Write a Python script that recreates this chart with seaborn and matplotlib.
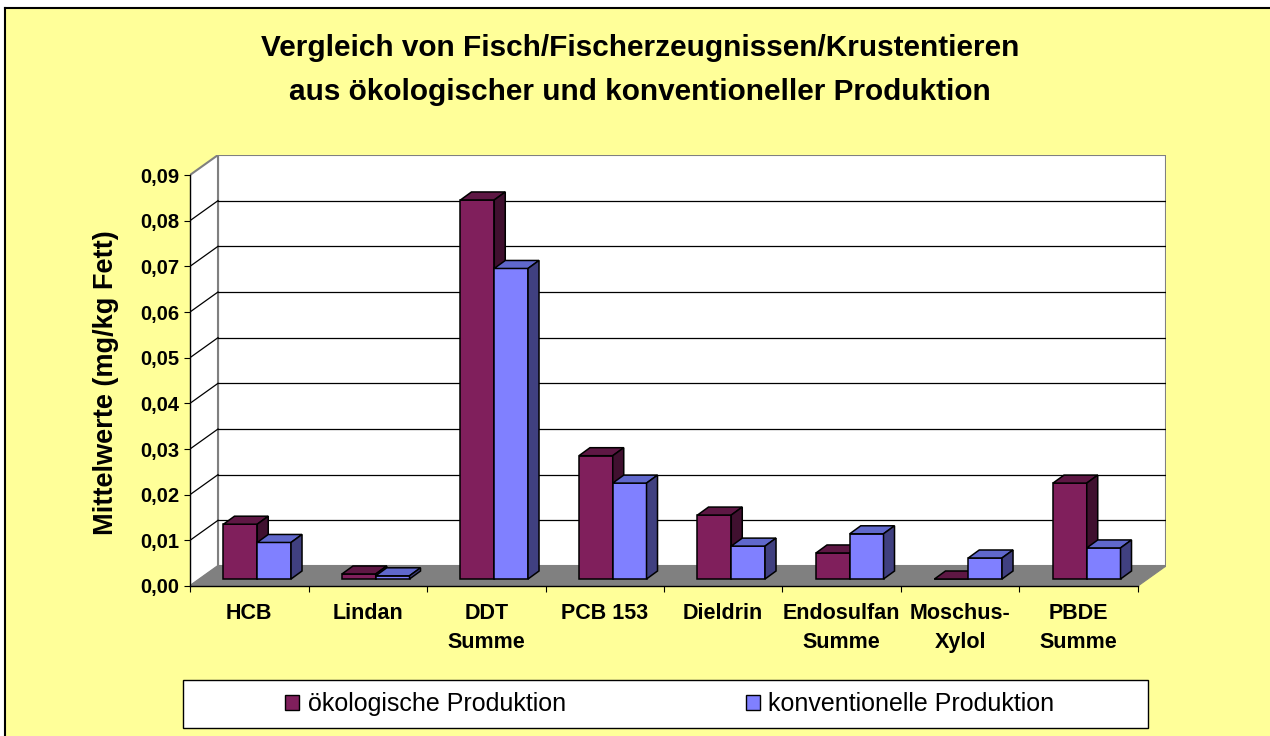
import numpy as np
import pandas as pd
import matplotlib
matplotlib.use("Agg")
import matplotlib.pyplot as plt
from matplotlib.patches import Rectangle, Polygon, Patch
from matplotlib.lines import Line2D
from matplotlib.ticker import FixedLocator
import seaborn as sns

# ---------------- data ----------------
categories = ["HCB", "Lindan", "DDT\nSumme", "PCB 153", "Dieldrin",
              "Endosulfan\nSumme", "Moschus-\nXylol", "PBDE\nSumme"]
series_names = ["ökologische Produktion", "konventionelle Produktion"]
eco_values = [0.012, 0.0011, 0.083, 0.027, 0.014, 0.0057, 0.0, 0.021]
conv_values = [0.008, 0.0007, 0.068, 0.021, 0.0072, 0.0099, 0.0046, 0.0068]
yticks = [0.00, 0.01, 0.02, 0.03, 0.04, 0.05, 0.06, 0.07, 0.08, 0.09]
ytick_labels = ["0,00", "0,01", "0,02", "0,03", "0,04", "0,05", "0,06", "0,07", "0,08", "0,09"]
title_lines = ["Vergleich von Fisch/Fischerzeugnissen/Krustentieren",
               "aus ökologischer und konventioneller Produktion"]
ylabel = "Mittelwerte (mg/kg Fett)"

df = pd.DataFrame({
    "Kategorie": categories * 2,
    "Serie": [series_names[0]] * len(categories) + [series_names[1]] * len(categories),
    "Wert": eco_values + conv_values,
})

# ---------------- style ----------------
plt.rcParams["font.family"] = ["Liberation Sans", "DejaVu Sans"]
BG = "#FFFF99"
front_cols = ["#801F5C", "#8080FF"]
top_cols = ["#5E1744", "#6068CC"]
side_cols = ["#40102F", "#404080"]

W, H = 1270, 736
fig = plt.figure(figsize=(W / 100, H / 100), dpi=100, facecolor="white")

# yellow chart area with black top/left border
fig.patches.append(Rectangle((5 / W, 0), 1 - 5 / W, 1 - 8 / H, transform=fig.transFigure,
                             facecolor=BG, edgecolor="none", zorder=-3))
fig.lines.append(Line2D([5 / W, 1], [1 - 8 / H, 1 - 8 / H], transform=fig.transFigure,
                        color="black", lw=1.5, zorder=-2))
fig.lines.append(Line2D([5 / W, 5 / W], [0, 1 - 8 / H], transform=fig.transFigure,
                        color="black", lw=1.5, zorder=-2))

# axes geometry (pixels)
px_left, px_right, px_top, px_bottom = 190, 1166, 155, 586
cat_px = (1138 - 190) / 8.0
unit_px = (586 - 175) / 0.09
ax = fig.add_axes([px_left / W, (H - px_bottom) / H,
                   (px_right - px_left) / W, (px_bottom - px_top) / H])
ax.set_facecolor("none")
ax.set_zorder(2)

xmin = -0.5
xmax = xmin + (px_right - px_left) / cat_px
ymax = (px_bottom - px_top) / unit_px

# depth of walls and of bars, in data units
DX, DY = 28 / cat_px, 20 / unit_px
BDX, BDY = 11 / cat_px, 8 / unit_px
SX, SY = 8 / cat_px, 7 / unit_px

sns.barplot(data=df, x="Kategorie", y="Wert", hue="Serie", order=categories,
            hue_order=series_names, palette=front_cols, saturation=1,
            width=0.57, gap=0, errorbar=None, edgecolor="black",
            linewidth=1.1, legend=False, ax=ax)
bars = list(ax.patches)
n = len(categories)

# walls and floor
nlast = n - 0.5
top = yticks[-1]
ax.add_patch(Rectangle((xmin + DX, DY), nlast - xmin, top, facecolor="white",
                       edgecolor="#808080", linewidth=1.5, zorder=0.5))
ax.add_patch(Polygon([(xmin, 0), (xmin + DX, DY), (xmin + DX, top + DY), (xmin, top)],
                     closed=True, facecolor="white", edgecolor="#808080",
                     linewidth=1.5, zorder=0.6))
ax.add_patch(Polygon([(xmin, 0), (nlast, 0), (nlast + DX, DY), (xmin + DX, DY)],
                     closed=True, facecolor="#808080", edgecolor="#808080",
                     linewidth=0.8, zorder=0.7))
for t in yticks[1:-1]:
    ax.plot([xmin + DX, nlast + DX], [t + DY, t + DY], color="black", lw=0.9, zorder=0.8)
    ax.plot([xmin, xmin + DX], [t, t + DY], color="black", lw=0.9, zorder=0.8)

# 3-D faces of the bars
for i, p in enumerate(bars):
    s = 0 if i < n else 1
    z = 3 + s
    x0 = p.get_x() + SX
    p.set_x(x0)
    p.set_y(SY)
    p.set_zorder(z)
    w = p.get_width()
    h = p.get_height()
    x1 = x0 + w
    y0, y1 = SY, SY + h
    ax.add_patch(Polygon([(x0, y1), (x0 + BDX, y1 + BDY), (x1 + BDX, y1 + BDY), (x1, y1)],
                         closed=True, facecolor=top_cols[s], edgecolor="black",
                         linewidth=1.1, zorder=z))
    ax.add_patch(Polygon([(x1, y0), (x1 + BDX, y0 + BDY), (x1 + BDX, y1 + BDY), (x1, y1)],
                         closed=True, facecolor=side_cols[s], edgecolor="black",
                         linewidth=1.1, zorder=z))

ax.set_xlim(xmin, xmax)
ax.set_ylim(0, ymax)

for sp in ["top", "right"]:
    ax.spines[sp].set_visible(False)
ax.spines["left"].set_bounds(0, top)
ax.spines["bottom"].set_bounds(xmin, nlast)
for sp in ["left", "bottom"]:
    ax.spines[sp].set_color("black")
    ax.spines[sp].set_linewidth(1.0)
    ax.spines[sp].set_zorder(5)

ax.set_yticks(yticks)
ax.set_yticklabels(ytick_labels)
ax.set_xticks(range(n))
ax.set_xticklabels(categories, linespacing=1.55)
ax.xaxis.set_minor_locator(FixedLocator(np.arange(xmin, nlast + 0.01, 1)))
ax.tick_params(axis="x", which="major", length=0, pad=12, labelsize=15.5)
ax.tick_params(axis="x", which="minor", length=4, width=0.8, color="black", direction="out")
ax.tick_params(axis="y", length=4, width=0.8, color="black", direction="out",
               pad=4, labelsize=14.5)
for lab in ax.get_xticklabels():
    lab.set_fontweight("bold")
for lab in ax.get_yticklabels():
    lab.set_fontweight("bold")
ax.set_xlabel("")
ax.set_ylabel("")

# titles and axis label
fig.text(640 / W, 1 - 48 / H, title_lines[0], ha="center", va="center",
         fontsize=21.4, fontweight="bold")
fig.text(640 / W, 1 - 92 / H, title_lines[1], ha="center", va="center",
         fontsize=21.4, fontweight="bold")
fig.text(106 / W, 1 - 383 / H, ylabel, rotation=90, ha="center", va="center",
         fontsize=19.5, fontweight="bold")

# legend
fig.patches.append(Rectangle((183 / W, 1 - 728 / H), (1148 - 183) / W, 48 / H,
                             transform=fig.transFigure, facecolor="white",
                             edgecolor="black", linewidth=1.0, zorder=1))
handles = [Patch(facecolor=front_cols[0], edgecolor="black", linewidth=1.0),
           Patch(facecolor=front_cols[1], edgecolor="black", linewidth=1.0)]
leg = fig.legend(handles, series_names, loc="center", bbox_to_anchor=(670 / W, 1 - 704 / H),
                 ncol=2, frameon=False, fontsize=18, handlelength=0.55, handleheight=0.55,
                 handletextpad=0.35, columnspacing=7.2, borderaxespad=0)
leg.set_zorder(3)

fig.savefig("out.png", dpi=100, facecolor="white")
